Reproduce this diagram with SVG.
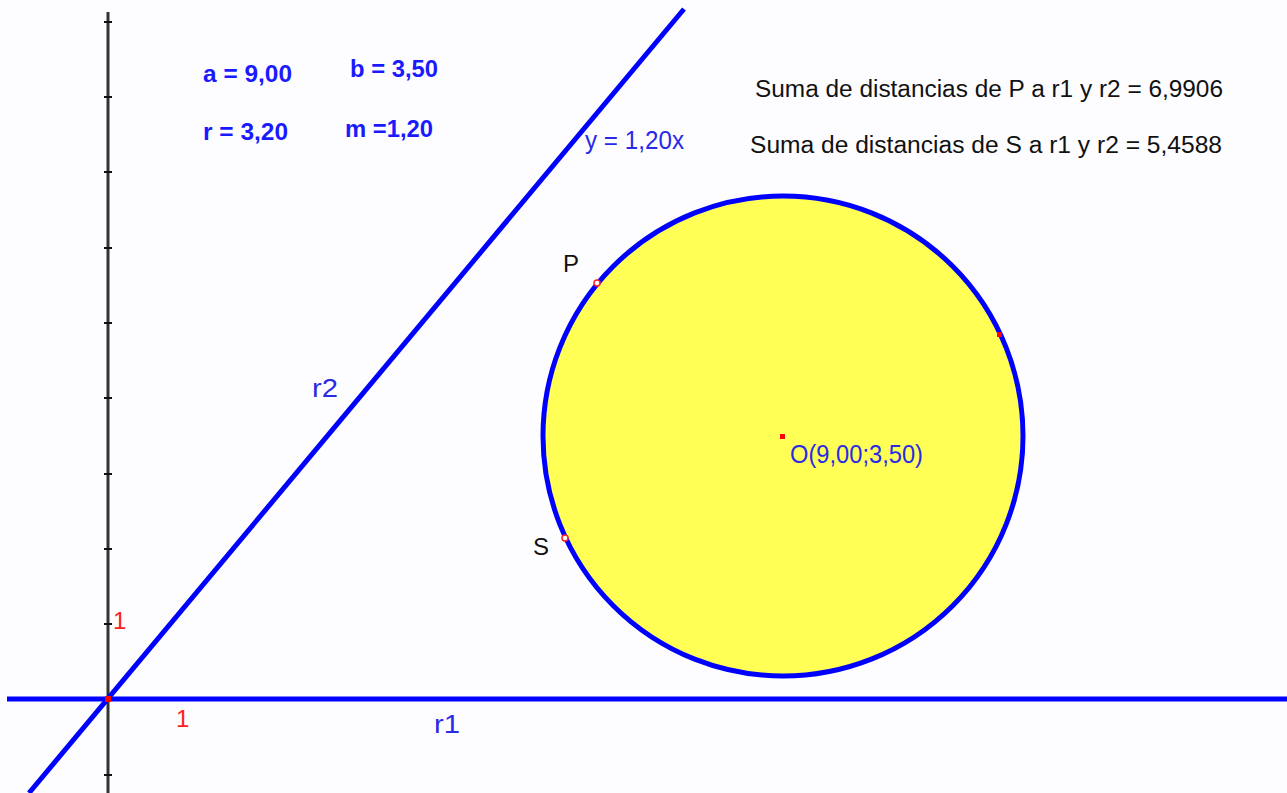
<svg xmlns="http://www.w3.org/2000/svg" width="1287" height="793" viewBox="0 0 1287 793">
<style>
.t{font-family:"Liberation Sans",Arial,sans-serif;}
.big{font-size:25px;fill:#2a2ae6;}
.bold{font-size:24px;font-weight:bold;fill:#1a1aff;}
.blk{font-size:23px;fill:#111;}
.pt{font-size:24px;fill:#111;}
.red{font-size:24px;fill:#ff2020;}
.tick{stroke:#111;stroke-width:2;}
</style>
<rect width="1287" height="793" fill="#fdfdff"/>
<g id="axis-y">
<line x1="108" y1="12" x2="108" y2="793" stroke="#333" stroke-width="3"/>
<g class="tick">
<line x1="104" y1="22" x2="112" y2="22"/>
<line x1="104" y1="97" x2="112" y2="97"/>
<line x1="104" y1="172" x2="112" y2="172"/>
<line x1="104" y1="248" x2="112" y2="248"/>
<line x1="104" y1="323" x2="112" y2="323"/>
<line x1="104" y1="398" x2="112" y2="398"/>
<line x1="104" y1="474" x2="112" y2="474"/>
<line x1="104" y1="549" x2="112" y2="549"/>
<line x1="104" y1="624" x2="112" y2="624"/>
<line x1="104" y1="775" x2="112" y2="775"/>
</g>
</g>
<g id="circle">
<circle cx="783" cy="436" r="240" fill="#ffff55" stroke="#0000ff" stroke-width="5"/>
</g>
<g id="connectors">
<line id="r1" x1="7" y1="699" x2="1287" y2="699" stroke="#0000ff" stroke-width="5"/>
<line id="r2" x1="29" y1="793" x2="684" y2="9" stroke="#0000ff" stroke-width="5"/>
</g>
<g id="points">
<rect x="105" y="696" width="6" height="6" fill="#ff0000"/>
<rect x="780" y="434" width="5" height="5" fill="#ff0000"/>
<rect x="997" y="332" width="5" height="5" fill="#ff0000"/>
<circle cx="597" cy="283" r="3" fill="#fff" stroke="#ff2020" stroke-width="1.5"/>
<circle cx="565" cy="538" r="3" fill="#fff" stroke="#ff2020" stroke-width="1.5"/>
</g>
<g id="labels">
<text class="t bold" x="203" y="82" textLength="89" lengthAdjust="spacingAndGlyphs">a = 9,00</text>
<text class="t bold" x="350" y="77" textLength="88" lengthAdjust="spacingAndGlyphs">b = 3,50</text>
<text class="t bold" x="203" y="140" textLength="85" lengthAdjust="spacingAndGlyphs">r = 3,20</text>
<text class="t bold" x="345" y="137" textLength="88" lengthAdjust="spacingAndGlyphs">m =1,20</text>
<text class="t big" x="585" y="149" textLength="99" lengthAdjust="spacingAndGlyphs">y = 1,20x</text>
<text class="t blk" x="755" y="97" textLength="468" lengthAdjust="spacingAndGlyphs">Suma de distancias de P a r1 y r2 = 6,9906</text>
<text class="t blk" x="750" y="153" textLength="472" lengthAdjust="spacingAndGlyphs">Suma de distancias de S a r1 y r2 = 5,4588</text>
<text class="t pt" x="563" y="272">P</text>
<text class="t pt" x="533" y="555">S</text>
<text class="t big" x="790" y="463" textLength="133" lengthAdjust="spacingAndGlyphs">O(9,00;3,50)</text>
<text class="t big" x="312" y="397" textLength="26" lengthAdjust="spacingAndGlyphs">r2</text>
<text class="t big" x="434" y="733" textLength="26" lengthAdjust="spacingAndGlyphs">r1</text>
<text class="t red" x="113" y="629">1</text>
<text class="t red" x="176" y="727">1</text>
</g>
</svg>
